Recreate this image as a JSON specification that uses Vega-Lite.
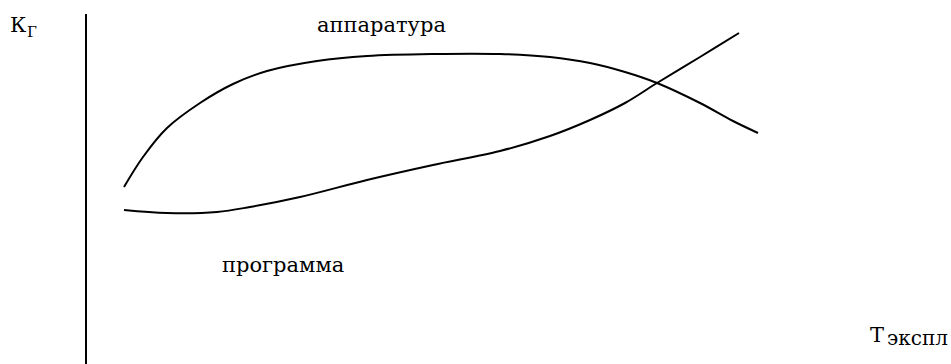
{
  "$schema": "https://vega.github.io/schema/vega-lite/v6.json",
  "width": 951,
  "height": 364,
  "padding": 0,
  "autosize": {"type": "none"},
  "background": "white",
  "config": {"view": {"stroke": null}},
  "datasets": {
    "curves": [
      {"series": "аппаратура", "t": 124, "k": 177},
      {"series": "аппаратура", "t": 143, "k": 207},
      {"series": "аппаратура", "t": 167, "k": 236},
      {"series": "аппаратура", "t": 200, "k": 261},
      {"series": "аппаратура", "t": 233, "k": 280},
      {"series": "аппаратура", "t": 267, "k": 293},
      {"series": "аппаратура", "t": 317, "k": 303},
      {"series": "аппаратура", "t": 367, "k": 308},
      {"series": "аппаратура", "t": 433, "k": 310},
      {"series": "аппаратура", "t": 500, "k": 310},
      {"series": "аппаратура", "t": 550, "k": 307},
      {"series": "аппаратура", "t": 590, "k": 301},
      {"series": "аппаратура", "t": 625, "k": 292},
      {"series": "аппаратура", "t": 657, "k": 281},
      {"series": "аппаратура", "t": 700, "k": 261},
      {"series": "аппаратура", "t": 733, "k": 243},
      {"series": "аппаратура", "t": 758, "k": 231},
      {"series": "программа", "t": 124, "k": 154},
      {"series": "программа", "t": 167, "k": 151},
      {"series": "программа", "t": 217, "k": 152},
      {"series": "программа", "t": 250, "k": 157},
      {"series": "программа", "t": 300, "k": 167},
      {"series": "программа", "t": 367, "k": 184},
      {"series": "программа", "t": 433, "k": 199},
      {"series": "программа", "t": 500, "k": 213},
      {"series": "программа", "t": 550, "k": 228},
      {"series": "программа", "t": 590, "k": 244},
      {"series": "программа", "t": 625, "k": 261},
      {"series": "программа", "t": 657, "k": 281},
      {"series": "программа", "t": 700, "k": 307},
      {"series": "программа", "t": 739, "k": 331}
    ],
    "axisline": [{"t": 86, "k0": 0, "k1": 350}],
    "labels": [
      {"text": "К", "t": 10, "k": 332},
      {"text": "аппаратура", "t": 317, "k": 332},
      {"text": "программа", "t": 222, "k": 92},
      {"text": "Т", "t": 870, "k": 22}
    ],
    "sub1": [
      {"text": "Г", "t": 27, "k": 327}
    ],
    "sub2": [
      {"text": "экспл", "t": 887, "k": 19}
    ]
  },
  "layer": [
    {
      "data": {"name": "axisline"},
      "mark": {"type": "rule", "color": "black", "strokeWidth": 2},
      "encoding": {
        "x": {"field": "t", "type": "quantitative", "scale": {"domain": [0, 951], "nice": false, "zero": false}, "axis": null},
        "y": {"field": "k0", "type": "quantitative", "scale": {"domain": [0, 364], "nice": false}, "axis": null},
        "y2": {"field": "k1"}
      }
    },
    {
      "data": {"name": "curves"},
      "mark": {"type": "line", "color": "black", "strokeWidth": 2, "interpolate": "catmull-rom"},
      "encoding": {
        "x": {"field": "t", "type": "quantitative", "scale": {"domain": [0, 951], "nice": false, "zero": false}, "axis": null},
        "y": {"field": "k", "type": "quantitative", "scale": {"domain": [0, 364], "nice": false}, "axis": null},
        "detail": {"field": "series"}
      }
    },
    {
      "data": {"name": "labels"},
      "mark": {"type": "text", "font": "DejaVu Serif", "fontSize": 21, "align": "left", "baseline": "alphabetic", "color": "black"},
      "encoding": {
        "x": {"field": "t", "type": "quantitative", "scale": {"domain": [0, 951], "nice": false, "zero": false}, "axis": null},
        "y": {"field": "k", "type": "quantitative", "scale": {"domain": [0, 364], "nice": false}, "axis": null},
        "text": {"field": "text"}
      }
    },
    {
      "data": {"name": "sub1"},
      "mark": {"type": "text", "font": "DejaVu Serif", "fontSize": 15, "align": "left", "baseline": "alphabetic", "color": "black"},
      "encoding": {
        "x": {"field": "t", "type": "quantitative", "scale": {"domain": [0, 951], "nice": false, "zero": false}, "axis": null},
        "y": {"field": "k", "type": "quantitative", "scale": {"domain": [0, 364], "nice": false}, "axis": null},
        "text": {"field": "text"}
      }
    },
    {
      "data": {"name": "sub2"},
      "mark": {"type": "text", "font": "DejaVu Serif", "fontSize": 20, "align": "left", "baseline": "alphabetic", "color": "black"},
      "encoding": {
        "x": {"field": "t", "type": "quantitative", "scale": {"domain": [0, 951], "nice": false, "zero": false}, "axis": null},
        "y": {"field": "k", "type": "quantitative", "scale": {"domain": [0, 364], "nice": false}, "axis": null},
        "text": {"field": "text"}
      }
    }
  ]
}
